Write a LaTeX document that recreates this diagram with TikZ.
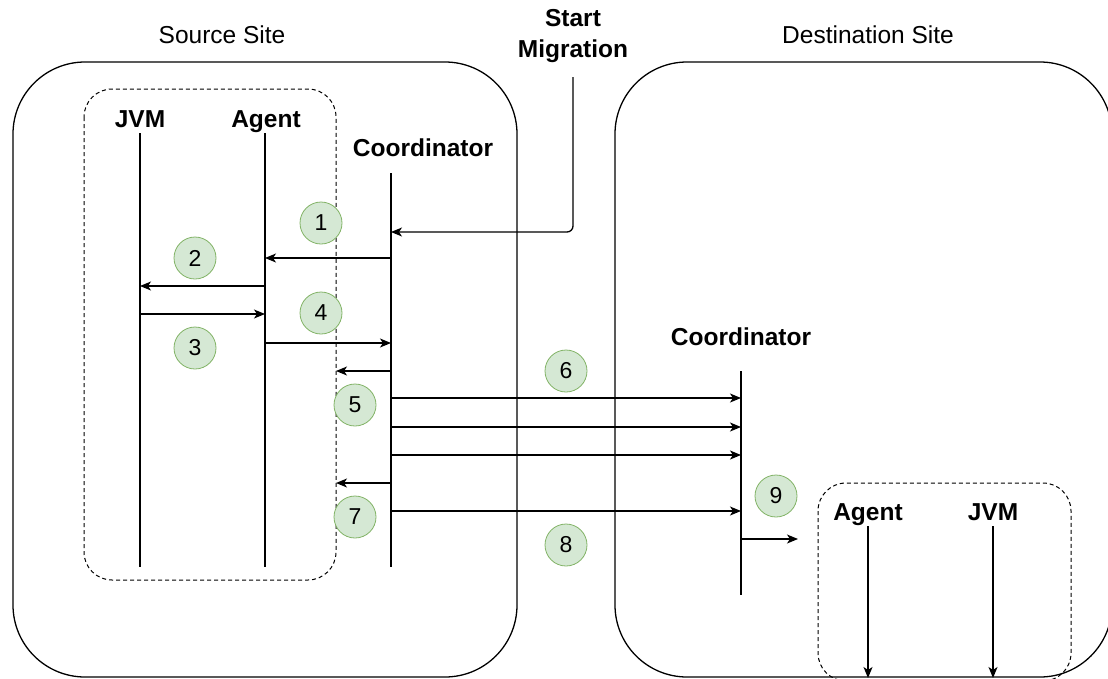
\documentclass[tikz,border=0pt]{standalone}
\usepackage{fontspec}
\setmainfont{Liberation Sans}
\usetikzlibrary{arrows.meta}
\definecolor{stepfill}{HTML}{D5E8D4}
\definecolor{stepline}{HTML}{82B366}

\begin{document}
\begin{tikzpicture}[x=1pt, y=-1pt, line width=1.3pt,
    site/.style={rounded corners=72pt},
    host/.style={dash pattern=on 4pt off 3pt, line width=1pt, rounded corners=28pt},
    title/.style={font=\fontsize{24.5}{30}\selectfont, text height=17pt, text depth=5pt},
    actor/.style={font=\fontsize{24.5}{31}\selectfont\bfseries, text height=17pt, text depth=5pt},
    msg/.style={-{Stealth[length=11pt, width=9pt, inset=3pt]}},
    stepno/.style={circle, draw=stepline, fill=stepfill, line width=0.8pt, minimum size=42pt,
      inner sep=0pt, font=\fontsize{23}{27}\selectfont}]
      \clip (0,0) rectangle (1108,678);
      \draw[site] (13,62) rectangle (517,677);
      \draw[site] (615,62) rectangle (1112,677);
      \draw[host] (84,89) rectangle (336,580);
      \draw[host] (818,483) rectangle (1071,681);
      %
      \node[title] (srcsite) at (222,37.5) {Source Site};
      \node[title] (dstsite) at (868,37.5) {Destination Site};
      \node[font=\fontsize{24.5}{31}\selectfont\bfseries, align=center] (start) at (573,36) {Start\\Migration};
      \node[actor] (jvmA) at (140,121.5) {JVM};
      \node[actor] (agentA) at (266,121.5) {Agent};
      \node[actor] (crdA) at (423,150.5) {Coordinator};
      \node[actor] (crdB) at (741,339.5) {Coordinator};
      \node[actor] (agentB) at (868,514.5) {Agent};
      \node[actor] (jvmB) at (993,514.5) {JVM};
      %
      \coordinate (jvmS) at (140,133);
      \coordinate (agentS) at (265,133);
      \coordinate (crdS) at (391,173);
      \coordinate (hostS) at (336,89);
      \coordinate (crdD) at (741,371);
      \coordinate (agentD) at (868,526);
      \coordinate (jvmD) at (993,526);
      \coordinate (out9) at (798,539);
      %
      \draw (jvmS) -- ++(0,434);
      \draw (agentS) -- ++(0,434);
      \draw (crdS) -- ++(0,394);
      \draw (crdD) -- ++(0,224);
      \draw[msg] (agentD) -- ++(0,152);
      \draw[msg] (jvmD) -- ++(0,152);
      %
      \draw[msg, rounded corners=6pt] (start.south |- 0,77) |- (crdS |- 0,232);
      \draw[msg] (crdS |- 0,258) -- (agentS |- 0,258);
      \draw[msg] (agentS |- 0,286) -- (jvmS |- 0,286);
      \draw[msg] (jvmS |- 0,314) -- (agentS |- 0,314);
      \draw[msg] (agentS |- 0,343) -- (crdS |- 0,343);
      \draw[msg] (crdS |- 0,371) -- (hostS |- 0,371);
      \foreach \y in {398,427,455,511}
        \draw[msg] (crdS |- 0,\y) -- (crdD |- 0,\y);
      \draw[msg] (crdS |- 0,483) -- (hostS |- 0,483);
      \draw[msg] (crdD |- 0,539) -- (out9);
      %
      \node[stepno] (s1) at (321,223) {1};
      \node[stepno] (s2) at (195,258) {2};
      \node[stepno] (s3) at (195,348) {3};
      \node[stepno] (s4) at (321,313) {4};
      \node[stepno] (s5) at (355,405) {5};
      \node[stepno] (s6) at (566,371) {6};
      \node[stepno] (s7) at (355,517) {7};
      \node[stepno] (s8) at (566,545) {8};
      \node[stepno] (s9) at (776,496) {9};
    \end{tikzpicture}
\end{document}
